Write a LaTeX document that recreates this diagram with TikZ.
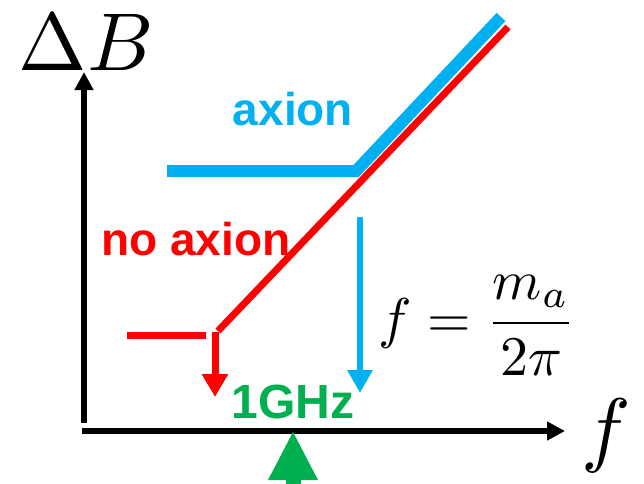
\documentclass[tikz,border=0pt]{standalone}
\usepackage{graphicx}
\usepackage{fontspec}
\usetikzlibrary{arrows.meta}
\newfontfamily\labfont{Liberation Sans}
\definecolor{axblue}{HTML}{00B0F0}
\definecolor{axred}{HTML}{FF0000}
\definecolor{axgreen}{HTML}{00B050}
\tikzset{
  axisline/.style={line width=5.5pt, black},
  bluecurve/.style={line width=12pt, axblue},
  redcurve/.style={line width=7pt, axred},
  lab/.style={inner sep=0pt, anchor=base, font=\labfont\bfseries\fontsize{46}{46}\selectfont},
  mathlab/.style={inner sep=0pt, anchor=base},
}
\begin{document}
\begin{tikzpicture}[x=1pt,y=-1pt]
\clip (0,0) rectangle (644,483);
\fill[white] (0,0) rectangle (644,483);
% axes
\coordinate (yb) at (84,423);
\coordinate (yt) at (84,72);
\coordinate (xl) at (82,431);
\coordinate (xr) at (565,431);
\draw[axisline, -{Triangle[length=18pt,width=18pt]}] (yb) -- (yt);
\draw[axisline, -{Triangle[length=18pt,width=18pt]}] (xl) -- (xr);
\node[mathlab] (dB) at (86,70) {\scalebox{8.2}{$\Delta B$}};
\node[mathlab] (fax) at (606,456) {\scalebox{8.3}{$f$}};
% blue (axion) curve
\coordinate (b1) at (167,171);
\coordinate (b2) at (356,171);
\coordinate (b3) at (501,17);
\draw[bluecurve] (b1) -- (b2) -- (b3);
% red (no axion) curve
\coordinate (r1) at (127,335);
\coordinate (r2) at (206,335);
\coordinate (r3) at (218,331);
\coordinate (r4) at (508,27);
\draw[redcurve] (r1) -- (r2);
\draw[redcurve] (r3) -- (r4);
% arrows down
\coordinate (ra1) at (215,332);
\coordinate (ra2) at (215,397);
\draw[line width=7pt, axred, -{Triangle[length=23pt,width=25pt]}] (ra1) -- (ra2);
\coordinate (ba1) at (360,217);
\coordinate (ba2) at (360,393);
\draw[line width=6pt, axblue, -{Triangle[length=23pt,width=24pt]}] (ba1) -- (ba2);
% labels
\node[lab, text=axblue] (ax) at (293,125) {axion};
\node[lab, text=axred] (nax) at (196,255) {no axion};
\node[lab, text=axgreen, font=\labfont\bfseries\fontsize{48}{48}\selectfont] (ghz) at (293,418) {1GHz};
\node[mathlab] (form) at (477,337) {\scalebox{5.6}{$\displaystyle f=\frac{m_a}{2\pi}$}};
% green marker
\fill[axgreen] (293,432) -- (318,480) -- (268,480) -- cycle;
\fill[axgreen] (285.5,478) rectangle (300.5,490);
\end{tikzpicture}
\end{document}
